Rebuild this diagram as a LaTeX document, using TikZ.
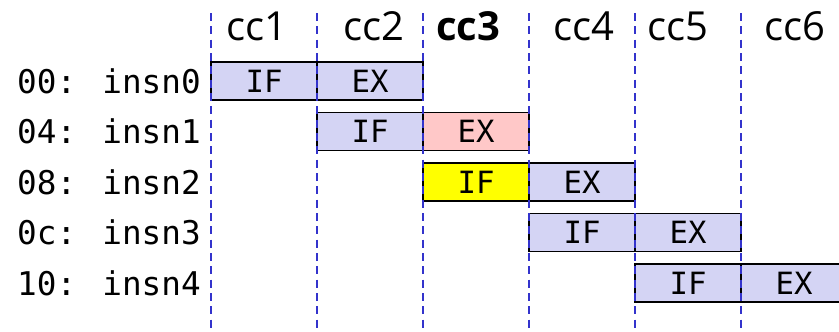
\documentclass[tikz,border=0pt]{standalone}
\usepackage{fontspec}
\newfontfamily\codefont{DejaVu Sans Mono}
\newfontfamily\cyclefont{Open Sans}

\definecolor{stagebg}{RGB}{212,212,244}
\definecolor{stallbg}{RGB}{255,200,200}
\definecolor{fetchbg}{RGB}{255,255,0}
\definecolor{cycleline}{RGB}{51,51,204}

\tikzset{
  stage/.style={draw=black,line width=1.2pt,minimum width=79.5pt,minimum height=28.5pt,
    inner sep=0pt,font=\codefont\fontsize{23}{23}\selectfont},
  insnlabel/.style={anchor=east,inner sep=0pt,font=\codefont\fontsize{24.5}{24.5}\selectfont},
  cyclabel/.style={anchor=base,inner sep=0pt,font=\cyclefont\fontsize{30}{30}\selectfont},
  cycsep/.style={draw=cycleline,line width=1.5pt,dash pattern=on 6pt off 4pt}
}

\begin{document}
\begin{tikzpicture}[x=0.75pt,y=-0.75pt]
  \clip (0,0) rectangle (839,332);

  % cycle headers
  \node[cyclabel] (cc1) at (257,40) {cc1};
  \node[cyclabel] (cc2) at (374,40) {cc2};
  \node[cyclabel,font=\cyclefont\bfseries\fontsize{30}{30}\selectfont] (cc3) at (468,40) {cc3};
  \node[cyclabel] (cc4) at (584,40) {cc4};
  \node[cyclabel] (cc5) at (678,40) {cc5};
  \node[cyclabel] (cc6) at (795,40) {cc6};

  % one row per instruction: IF then EX
  \foreach \i/\addr/\iffill/\exfill in {0/00/stagebg/stagebg,1/04/stagebg/stallbg,
      2/08/fetchbg/stagebg,3/0c/stagebg/stagebg,4/10/stagebg/stagebg} {
    \node[insnlabel] (insn\i) at (201,{81+50.5*\i}) {\addr: insn\i};
    \node[stage,fill=\iffill] (if\i) at ({264+106*\i},{81+50.5*\i}) {IF};
    \node[stage,fill=\exfill] (ex\i) at ({370+106*\i},{81+50.5*\i}) {EX};
  }

  % cycle boundaries
  \foreach \k in {0,...,5} {
    \coordinate (top\k) at ({211+106*\k},13);
    \coordinate (bot\k) at ({211+106*\k},332);
    \draw[cycsep] (top\k) -- (bot\k);
  }
\end{tikzpicture}
\end{document}
